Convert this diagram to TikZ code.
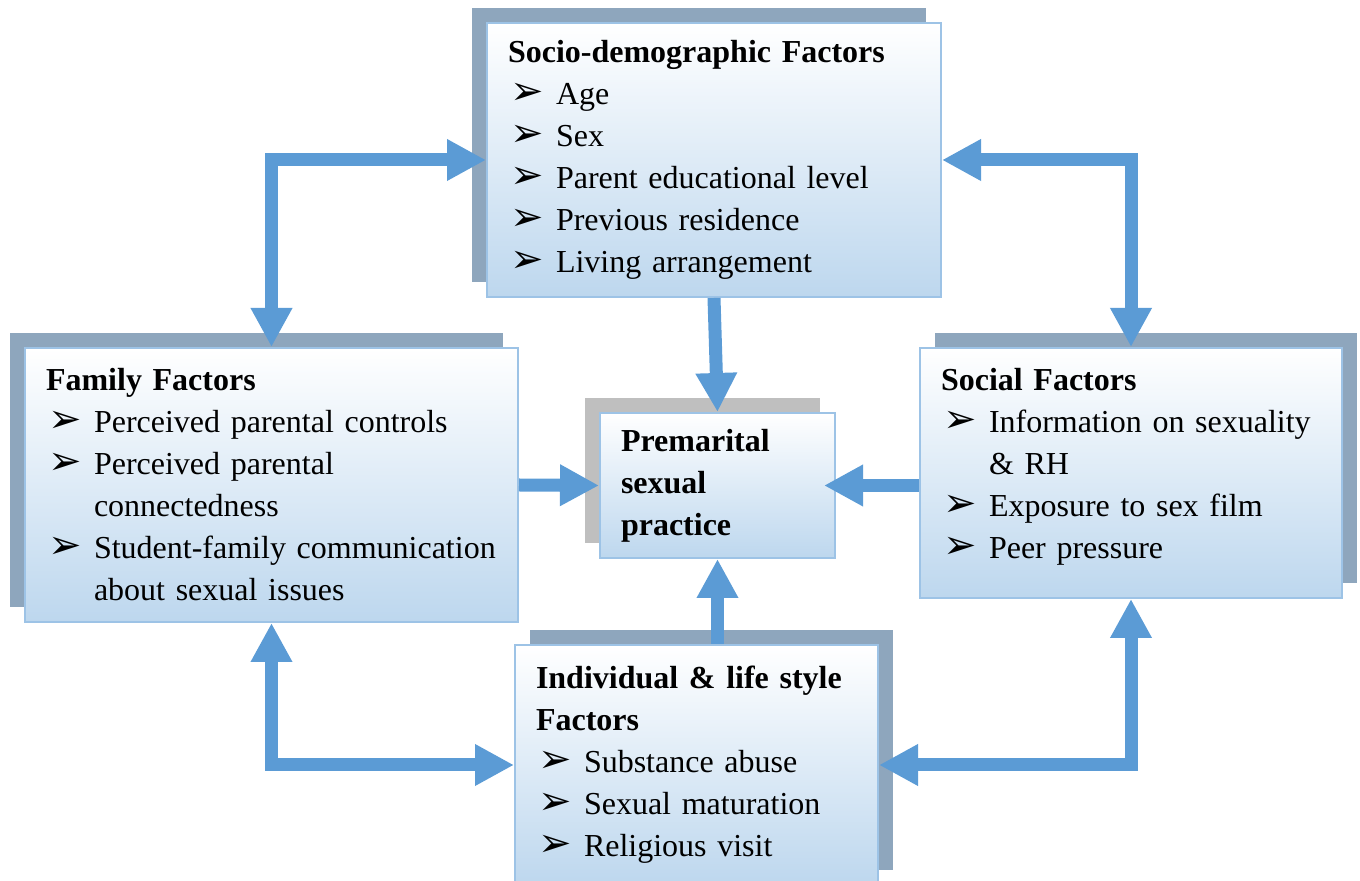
\documentclass[tikz,border=0pt]{standalone}
\usepackage{fontspec}
\setmainfont{Liberation Serif}
\newfontfamily\dingfont{DejaVu Sans}
\usetikzlibrary{arrows.meta,shadows}

\definecolor{linkblue}{HTML}{5B9BD5}
\definecolor{boxblue}{HTML}{BDD7EE}
\definecolor{edgeblue}{HTML}{9DC3E6}
\definecolor{backslate}{HTML}{8EA6BD}
\definecolor{backgray}{HTML}{BFBFBF}

\newcommand\fitem{\makebox[48bp][l]{\hspace*{2bp}{\dingfont\fontsize{40bp}{40bp}\selectfont ➢}}}
\newcommand\fcont{\hspace*{48bp}}

\tikzset{
  factor/.style={draw=edgeblue,line width=2bp,top color=white,bottom color=boxblue,
    align=left,inner xsep=21bp,inner ysep=0bp,font=\fontsize{32bp}{42bp}\selectfont},
  backleft/.style={general shadow={shadow xshift=-15bp,shadow yshift=15bp,fill=backslate,draw=none}},
  backright/.style={general shadow={shadow xshift=15bp,shadow yshift=15bp,fill=backslate,draw=none}},
  backplain/.style={general shadow={shadow xshift=-15bp,shadow yshift=15bp,fill=backgray,draw=none}},
  link/.style={line width=13bp,draw=linkblue},
}

\begin{document}
\begin{tikzpicture}[>={Triangle[length=39bp,width=39bp]},line join=miter,]
\useasboundingbox (0bp,0bp) rectangle (1360bp,881bp);
%%
\node (socio) at (714bp,721bp) [factor,backleft,text width=412bp,minimum height=274bp] {\textbf{Socio-demographic Factors}\\
  \fitem Age\\ \fitem Sex\\ \fitem Parent educational level\\ \fitem Previous residence\\ \fitem Living arrangement};
  \node (family) at (271.5bp,396bp) [factor,backleft,text width=451bp,minimum height=274bp] {\textbf{Family Factors}\\
  \fitem Perceived parental controls\\ \fitem Perceived parental\\ \fcont connectedness\\
  \fitem Student-family communication\\ \fcont about sexual issues};
  \node (practice) at (717.5bp,395.5bp) [factor,backplain,text width=193bp,minimum height=145bp] {\textbf{Premarital}\\ \textbf{sexual}\\ \textbf{practice}};
  \node (social) at (1131bp,408bp) [factor,backright,text width=380bp,minimum height=250bp] {\textbf{Social Factors}\\
  \fitem Information on sexuality\\ \fcont \& RH\\ \fitem Exposure to sex film\\ \fitem Peer pressure\rule[-19bp]{0pt}{0pt}};
  \node (indiv) at (696.5bp,116bp) [factor,backright,text width=321bp,minimum height=240bp] {\textbf{Individual \& life style}\\ \textbf{Factors}\\
  \fitem Substance abuse\\ \fitem Sexual maturation\\ \fitem Religious visit};
%
  \draw [link,<->] (socio.west) -| (family.north);
  \draw [link,<->] (socio.east) -| (social.north);
  \draw [link,<->] (family.south) |- (indiv.west);
  \draw [link,<->] (social.south) |- (indiv.east);
%
  \draw [link,->] (socio.south) -- (practice.north);
  \draw [link,->] (family.east) -- (practice.west);
  \draw [link,->] (social.west |- practice.east) -- ([xshift=-12bp]practice.east);
  \draw [link,->] (practice.south |- indiv.north) -- (practice.south);
%
\end{tikzpicture}
\end{document}
